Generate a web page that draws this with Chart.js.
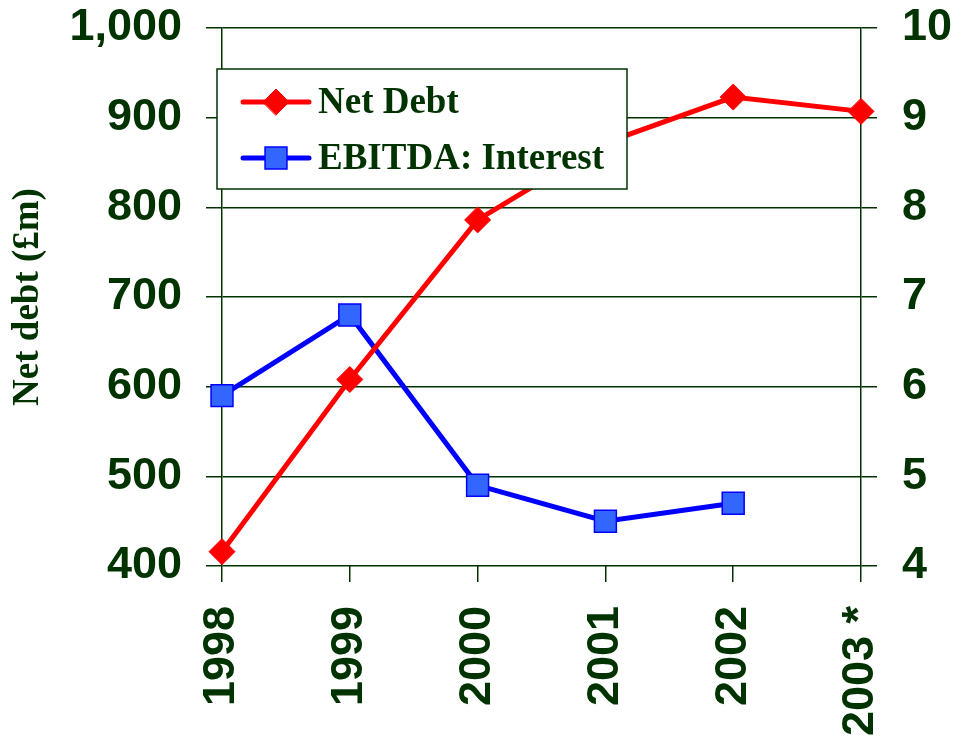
<!DOCTYPE html>
<html>
<head>
<meta charset="utf-8">
<script src="https://cdn.jsdelivr.net/npm/chart.js@4/dist/chart.umd.min.js"></script>
<style>
  html, body { margin: 0; padding: 0; background: #fff; }
  canvas { display: block; }
</style>
</head>
<body>
<canvas id="chart" width="956" height="741"></canvas>
<script>
// values
const years = ['1998', '1999', '2000', '2001', '2002', '2003 *'];
const netDebt = [416, 608, 786, 872, 923, 907];
const ebitdaInterest = [5.9, 6.8, 4.9, 4.5, 4.7, null];

const leftTicks = [400, 500, 600, 700, 800, 900, 1000];
const rightTicks = [4, 5, 6, 7, 8, 9, 10];

const green = '#003300';
const sansBold = { family: 'Liberation Sans, Arial, sans-serif', size: 45, weight: 'bold' };
const serifBold = { family: 'Liberation Serif, Times New Roman, serif', size: 37, weight: 'bold' };

// legend box sits inside the plot, drawn on top of the lines
const legendBox = {
  id: 'legendBox',
  afterDatasetsDraw(chart) {
    const ctx = chart.ctx;
    const x = 217, y = 69, w = 410, h = 120;
    ctx.save();
    ctx.fillStyle = '#fff';
    ctx.fillRect(x, y, w, h);
    ctx.strokeStyle = green;
    ctx.lineWidth = 1.5;
    ctx.strokeRect(x, y, w, h);

    const rows = [102, 158];
    chart.data.datasets.forEach((ds, i) => {
      const cy = rows[i];
      ctx.strokeStyle = ds.borderColor;
      ctx.lineWidth = ds.borderWidth;
      ctx.lineCap = 'round';
      ctx.beginPath();
      ctx.moveTo(243, cy);
      ctx.lineTo(309, cy);
      ctx.stroke();

      ctx.fillStyle = ds.pointBackgroundColor;
      ctx.strokeStyle = ds.pointBorderColor;
      ctx.lineWidth = ds.pointBorderWidth;
      Chart.helpers.drawPoint(ctx, {
        pointStyle: ds.pointStyle,
        radius: ds.pointRadius,
        borderWidth: ds.pointBorderWidth,
        rotation: 0
      }, 276, cy);

      ctx.fillStyle = green;
      ctx.font = `bold ${serifBold.size}px ${serifBold.family}`;
      ctx.textBaseline = 'middle';
      ctx.textAlign = 'left';
      ctx.fillText(ds.label, 318, cy + 1);
    });
    ctx.restore();
  }
};

// keep the y scales from pushing the plot down with label padding
const fixY = width => s => {
  s.width = width;
  s.paddingTop = 0;
  s.paddingBottom = 0;
};

new Chart(document.getElementById('chart'), {
  type: 'line',
  data: {
    labels: years,
    datasets: [
      {
        label: 'Net Debt',
        data: netDebt,
        yAxisID: 'y',
        borderColor: '#ff0000',
        borderWidth: 5,
        pointStyle: 'rectRot',
        pointRadius: 13,
        pointBackgroundColor: '#ff0000',
        pointBorderColor: '#ff0000',
        pointBorderWidth: 1,
        tension: 0,
        clip: false
      },
      {
        label: 'EBITDA: Interest',
        data: ebitdaInterest,
        yAxisID: 'y1',
        borderColor: '#0000ff',
        borderWidth: 5,
        pointStyle: 'rect',
        pointRadius: 15.5,
        pointBackgroundColor: '#3366ff',
        pointBorderColor: '#0000ff',
        pointBorderWidth: 1.5,
        tension: 0,
        clip: false
      }
    ]
  },
  options: {
    responsive: false,
    animation: false,
    layout: { padding: { top: 28 } },
    plugins: {
      legend: { display: false },
      tooltip: { enabled: false }
    },
    scales: {
      x: {
        grid: { drawOnChartArea: false, tickLength: 16, color: green, lineWidth: 1.5 },
        border: { display: false },
        ticks: {
          color: green, font: sansBold, padding: 24,
          minRotation: 90, maxRotation: 90, autoSkip: false
        },
        afterFit: s => { s.height = 175; }
      },
      y: {
        position: 'left',
        min: 400, max: 1000,
        afterBuildTicks: s => { s.ticks = leftTicks.map(v => ({ value: v })); },
        grid: { tickLength: 16, color: green, lineWidth: 1.5 },
        border: { color: green, width: 1.5 },
        ticks: { color: green, font: sansBold, padding: 24 },
        title: {
          display: true,
          text: 'Net debt (£m)',
          color: green,
          font: serifBold,
          padding: { top: 6, bottom: 0 }
        },
        afterFit: fixY(222)
      },
      y1: {
        position: 'right',
        min: 4, max: 10,
        afterBuildTicks: s => { s.ticks = rightTicks.map(v => ({ value: v })); },
        grid: { drawOnChartArea: false, tickLength: 16, color: green, lineWidth: 1.5 },
        border: { color: green, width: 1.5 },
        ticks: { color: green, font: sansBold, padding: 25 },
        afterFit: fixY(95)
      }
    }
  },
  plugins: [legendBox]
});
</script>
</body>
</html>
